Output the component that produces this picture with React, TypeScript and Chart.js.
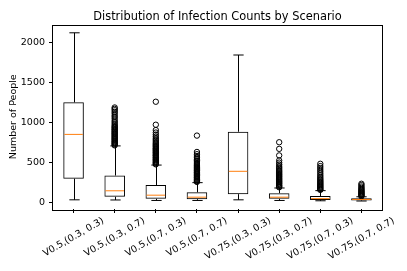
import React, { useEffect, useRef } from "react";
import { Chart, registerables } from "chart.js";

Chart.register(...registerables);

const titleText = "Distribution of Infection Counts by Scenario";
const yTitle = "Number of People";
const categories = [
  "V0.5,(0.3, 0.3)",
  "V0.5,(0.3, 0.7)",
  "V0.5,(0.7, 0.3)",
  "V0.5,(0.7, 0.7)",
  "V0.75,(0.3, 0.3)",
  "V0.75,(0.3, 0.7)",
  "V0.75,(0.7, 0.3)",
  "V0.75,(0.7, 0.7)",
];
const whiskerLow = [30, 28, 22, 22, 30, 22, 18, 15];
const q1 = [295, 68, 43, 38, 101, 42, 28, 22];
const medians = [849, 143, 88, 63, 387, 63, 45, 34];
const q3 = [1250, 334, 214, 124, 882, 113, 78, 50];
const whiskerHigh = [2121, 705, 465, 245, 1843, 178, 145, 68];

const fliers1: number[] = [];
const fliers2 = [712, 721, 733, 740, 752, 761, 770, 784, 791, 803, 812, 824, 833, 845, 856, 864, 877, 885, 898, 909, 917, 931, 940, 952, 966, 984, 1003, 1021, 1046, 1068, 1087, 1112, 1131, 1152, 1169, 1186];
const fliers3 = [474, 483, 495, 503, 514, 526, 533, 545, 556, 564, 577, 586, 594, 607, 618, 626, 638, 647, 659, 668, 677, 690, 701, 712, 724, 736, 752, 768, 785, 802, 823, 846, 872, 903, 970, 1258];
const fliers4 = [254, 263, 272, 284, 293, 305, 314, 326, 335, 347, 356, 368, 377, 389, 398, 411, 420, 432, 443, 455, 466, 478, 491, 505, 521, 538, 556, 578, 601, 629, 834];
const fliers5: number[] = [];
const fliers6 = [187, 196, 207, 216, 228, 237, 249, 258, 270, 281, 292, 303, 315, 326, 338, 349, 362, 375, 388, 402, 417, 433, 451, 472, 496, 523, 586, 668, 751];
const fliers7 = [154, 163, 172, 183, 192, 203, 213, 224, 235, 247, 259, 272, 286, 301, 318, 337, 358, 381, 404, 428, 452, 481];
const fliers8 = [74, 82, 90, 99, 107, 116, 125, 134, 144, 155, 167, 180, 196, 214, 231];
const fliers = [fliers1, fliers2, fliers3, fliers4, fliers5, fliers6, fliers7, fliers8];

const yTicks = [0, 500, 1000, 1500, 2000];
const yMin = -85;
const yMax = 2225;

const FONT = "'DejaVu Sans', sans-serif";
const TICK_FS = 9.5;
const TITLE_FS = 11.4;
const MEDIAN_COLOR = "#ff7f0e";

const boxExtras = {
  id: "boxExtras",
  afterDatasetsDraw(chart: any) {
    const ctx = chart.ctx;
    const meta = chart.getDatasetMeta(0);
    const y = chart.scales.y;
    ctx.save();
    ctx.lineWidth = 1;
    meta.data.forEach((bar: any, i: number) => {
      const x = Math.round(bar.x) + 0.5;
      const half = bar.width / 2;
      const cap = bar.width / 4;
      const yLo = y.getPixelForValue(whiskerLow[i]);
      const yQ1 = y.getPixelForValue(q1[i]);
      const yMed = y.getPixelForValue(medians[i]);
      const yQ3 = y.getPixelForValue(q3[i]);
      const yHi = y.getPixelForValue(whiskerHigh[i]);
      ctx.strokeStyle = "#000";
      ctx.beginPath();
      ctx.moveTo(x, yQ1);
      ctx.lineTo(x, yLo);
      ctx.moveTo(x, yQ3);
      ctx.lineTo(x, yHi);
      ctx.moveTo(x - cap, yLo);
      ctx.lineTo(x + cap, yLo);
      ctx.moveTo(x - cap, yHi);
      ctx.lineTo(x + cap, yHi);
      ctx.stroke();
      ctx.strokeStyle = MEDIAN_COLOR;
      ctx.beginPath();
      ctx.moveTo(bar.x - half + 1, yMed);
      ctx.lineTo(bar.x + half - 1, yMed);
      ctx.stroke();
    });
    const a = chart.chartArea;
    ctx.strokeStyle = "#000";
    ctx.lineWidth = 1;
    ctx.strokeRect(Math.round(a.left) - 0.5, Math.round(a.top) + 0.5, Math.round(a.right - a.left) + 1, Math.round(a.bottom - a.top));
    ctx.restore();
  },
  afterDraw(chart: any) {
    const ctx = chart.ctx;
    const xs = chart.scales.x;
    const a = chart.chartArea;
    const theta = (30 * Math.PI) / 180;
    ctx.save();
    ctx.fillStyle = "#000";
    // title
    ctx.font = `${TITLE_FS}px ${FONT}`;
    ctx.textAlign = "center";
    ctx.textBaseline = "alphabetic";
    ctx.fillText(titleText, (a.left + a.right) / 2, 19.7);
    // rotated category labels, centred under each tick
    ctx.font = `${TICK_FS}px ${FONT}`;
    ctx.textBaseline = "middle";
    categories.forEach((lab, i) => {
      const px = xs.getPixelForValue(i);
      const w = ctx.measureText(lab).width;
      const H = w * Math.sin(theta) + TICK_FS * Math.cos(theta);
      const cy = a.bottom + 7 + H / 2;
      ctx.save();
      ctx.translate(px, cy);
      ctx.rotate(-theta);
      ctx.fillText(lab, 0, 0);
      ctx.restore();
    });
    ctx.restore();
  },
};

export default function App() {
  const ref = useRef<HTMLCanvasElement>(null);
  useEffect(() => {
    if (!ref.current) return;
    const flierPoints: { x: string; y: number }[] = [];
    fliers.forEach((arr, i) => arr.forEach((v) => flierPoints.push({ x: categories[i], y: v })));
    const chart = new Chart(ref.current, {
      type: "bar",
      data: {
        labels: categories,
        datasets: [
          {
            type: "bar",
            data: categories.map((_, i) => [q1[i], q3[i]]),
            backgroundColor: "rgba(0,0,0,0)",
            borderColor: "#000",
            borderWidth: 1,
            borderSkipped: false,
            barPercentage: 0.5,
            categoryPercentage: 1,
          } as any,
          {
            type: "line",
            data: flierPoints as any,
            showLine: false,
            pointRadius: 2.7,
            pointBorderWidth: 1,
            pointBorderColor: "#000",
            pointBackgroundColor: "rgba(0,0,0,0)",
          } as any,
        ],
      },
      options: {
        responsive: false,
        animation: false,
        layout: { padding: { left: 0, right: 25, top: 24.5, bottom: 0 } },
        plugins: {
          legend: { display: false },
          tooltip: { enabled: false },
          title: { display: false },
        },
        scales: {
          x: {
            type: "category",
            offset: true,
            grid: { display: true, offset: false, drawOnChartArea: false, drawTicks: true, tickLength: 4, color: "#000" },
            border: { display: false },
            ticks: { callback: () => "", maxRotation: 0 },
            afterFit: (scale: any) => {
              scale.height = 62;
            },
          },
          y: {
            type: "linear",
            min: yMin,
            max: yMax,
            grid: { display: true, drawOnChartArea: false, drawTicks: true, tickLength: 4, color: "#000" },
            border: { display: false },
            ticks: {
              color: "#000",
              font: { family: FONT, size: TICK_FS },
              padding: 4,
              callback: (v: any) => String(v),
            },
            afterBuildTicks: (scale: any) => {
              scale.ticks = yTicks.map((v) => ({ value: v }));
            },
            afterFit: (scale: any) => {
              scale.width = 53;
            },
            title: {
              display: true,
              text: yTitle,
              color: "#000",
              font: { family: FONT, size: TICK_FS },
              padding: { top: 8, bottom: 0 },
            },
          },
        },
      } as any,
      plugins: [boxExtras],
    });
    return () => chart.destroy();
  }, []);
  return (
    <div style={{ position: "absolute", left: 0, top: 0, width: 407, height: 271 }}>
      <canvas ref={ref} width={407} height={271} style={{ display: "block" }} />
    </div>
  );
}
